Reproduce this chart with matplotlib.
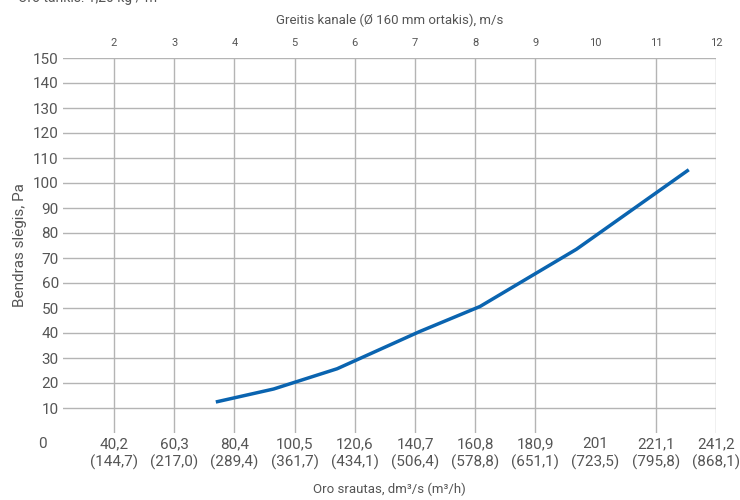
import matplotlib
matplotlib.use("Agg")
import matplotlib.pyplot as plt

plt.rcParams['font.family'] = ['Roboto', 'DejaVu Sans']

# air flow, dm3/s and total pressure, Pa
flow = [74.2, 93.5, 114.7, 142.1, 162.4, 194.6, 232.1]
pressure = [12.4, 17.6, 25.7, 40.5, 50.6, 73.5, 105.3]

tick_flow = [40.2, 60.3, 80.4, 100.5, 120.6, 140.7, 160.8, 180.9, 201, 221.1, 241.2]
tick_labels = ['40,2\n(144,7)', '60,3\n(217,0)', '80,4\n(289,4)', '100,5\n(361,7)',
               '120,6\n(434,1)', '140,7\n(506,4)', '160,8\n(578,8)', '180,9\n(651,1)',
               '201\n(723,5)', '221,1\n(795,8)', '241,2\n(868,1)']
speed_labels = ['2', '3', '4', '5', '6', '7', '8', '9', '10', '11', '12']
y_ticks = list(range(10, 151, 10))

txt = '#555555'
grid_c = '#b4b4b4'

fig = plt.figure(figsize=(7.4, 5.0), dpi=100)
ax = fig.add_axes([0.0851, 0.134, 0.8825, 0.750])

ax.set_xlim(23.17, 241.2)
ax.set_ylim(0, 150)

for y in y_ticks:
    ax.axhline(y, color=grid_c, lw=1, zorder=1)
for x in tick_flow:
    if x == 201:
        continue
    ax.axvline(x, color=grid_c, lw=1, zorder=1)

ax.plot(flow, pressure, color='#0a64b0', lw=2.5, zorder=3, solid_capstyle='butt')

for s in ax.spines.values():
    s.set_visible(False)

ax.set_yticks(y_ticks)
ax.set_yticklabels([str(v) for v in y_ticks])
ax.set_xticks(tick_flow)
ax.set_xticklabels(tick_labels, linespacing=1.3)
ax.tick_params(axis='both', length=0, labelsize=11, colors=txt)
ax.tick_params(axis='x', pad=3)
ax.tick_params(axis='y', pad=3)

ax.set_xlabel('Oro srautas, dm³/s (m³/h)', fontsize=9.5, color=txt, labelpad=9)
ax.set_ylabel('Bendras slėgis, Pa', fontsize=11, color=txt, labelpad=4)

ax.text(-0.025, -0.01, '0', transform=ax.transAxes, fontsize=11, color=txt,
        ha='right', va='top')

top = ax.twiny()
top.set_xlim(ax.get_xlim())
top.set_xticks(tick_flow)
top.set_xticklabels(speed_labels)
top.tick_params(axis='x', length=0, labelsize=8, colors=txt, pad=7)
for s in top.spines.values():
    s.set_visible(False)
top.set_xlabel('Greitis kanale (Ø 160 mm ortakis), m/s', fontsize=9.5, color=txt, labelpad=10)

fig.text(0.024, 1.004, 'Oro tankis: 1,20 kg / m³', fontsize=10, color=txt, ha='left', va='center')

fig.savefig('out.png', dpi=100)
